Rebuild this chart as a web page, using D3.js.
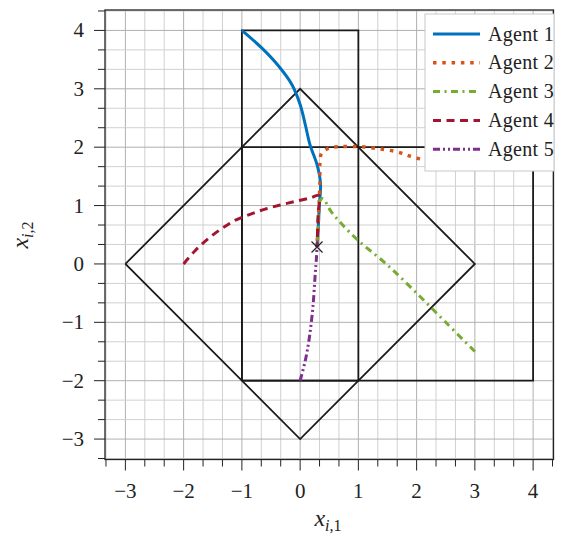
<!DOCTYPE html>
<html>
<head>
<meta charset="utf-8">
<script src="https://cdn.jsdelivr.net/npm/d3@7"></script>
<style>
  body { margin: 0; background: #fff; }
  text { font-family: "Liberation Serif", "Times New Roman", "DejaVu Serif", serif; }
</style>
</head>
<body>
<svg id="chart" width="566" height="537"></svg>
<script>
// axis setup
const xDomain = [-3.35, 4.35];
const yDomain = [-3.35, 4.35];
const majorTicks = [-3, -2, -1, 0, 1, 2, 3, 4];
const minorTicks = d3.range(-10, 14).map(k => k / 3);

// constraint sets (closed polygons)
const rectA = [[-1, -2], [1, -2], [1, 4], [-1, 4], [-1, -2]];
const rectB = [[-1, -2], [4, -2], [4, 2], [-1, 2], [-1, -2]];
const diamond = [[-3, 0], [0, 3], [3, 0], [0, -3], [-3, 0]];

// agent trajectories
const agent1 = [[-1, 4], [-0.66, 3.70], [-0.37, 3.39], [-0.14, 3.07], [0, 2.73], [0.09, 2.38], [0.17, 2.04], [0.29, 1.70], [0.35, 1.38], [0.33, 1.0], [0.31, 0.6], [0.29, 0.29]];
const agent2 = [[3, 1.62], [2.5, 1.72], [1.97, 1.82], [1.66, 1.92], [1.31, 1.98], [1.0, 2.01], [0.69, 2.01], [0.51, 1.99], [0.37, 1.90], [0.34, 1.73], [0.34, 1.4], [0.32, 0.9], [0.29, 0.29]];
const agent3 = [[3, -1.5], [2.5, -1.0], [2.0, -0.5], [1.5, -0.02], [1.0, 0.40], [0.7, 0.70], [0.53, 0.9], [0.39, 1.12], [0.34, 1.08], [0.31, 0.7], [0.29, 0.29]];
const agent4 = [[-2, 0], [-1.8, 0.23], [-1.57, 0.44], [-1.34, 0.61], [-1.11, 0.75], [-0.86, 0.85], [-0.6, 0.94], [-0.34, 1.01], [-0.09, 1.07], [0.17, 1.13], [0.32, 1.17], [0.31, 0.87], [0.29, 0.29]];
const agent5 = [[0, -2], [0.09, -1.65], [0.16, -1.25], [0.22, -0.73], [0.26, -0.16], [0.28, 0.1], [0.29, 0.29]];
const consensus = [0.29, 0.29];

const agentNames = ["Agent 1", "Agent 2", "Agent 3", "Agent 4", "Agent 5"];
const agentData = [agent1, agent2, agent3, agent4, agent5];
const agentColors = ["#0072BD", "#D95319", "#77AC30", "#A2142F", "#7E2F8E"];
const agentDash = ["none", "3.5 5.8", "7 4.5 2 4.5", "8 5.5", "7 3 2 3 2 3"];
const agentWidth = [3, 3.5, 3, 3, 3];

const serif = "'Liberation Serif', 'Times New Roman', 'DejaVu Serif', serif";
const svg = d3.select("#chart").attr("font-family", serif);
const pLeft = 105, pRight = 553.5, pTop = 10, pBottom = 459.5;

const x = d3.scaleLinear().domain(xDomain).range([pLeft, pRight]);
const y = d3.scaleLinear().domain(yDomain).range([pBottom, pTop]);
const isMajor = d => Math.abs(d - Math.round(d)) < 1e-6;

svg.append("defs").append("clipPath").attr("id", "plotclip")
    .append("rect")
    .attr("x", pLeft).attr("y", pTop)
    .attr("width", pRight - pLeft).attr("height", pBottom - pTop);

// grid
const grid = svg.append("g");
grid.selectAll(".vg").data(minorTicks).enter().append("line")
    .attr("x1", d => x(d)).attr("x2", d => x(d))
    .attr("y1", pTop).attr("y2", pBottom)
    .attr("stroke", d => isMajor(d) ? "#b0b0b0" : "#d0d0d0")
    .attr("stroke-width", 1);
grid.selectAll(".hg").data(minorTicks).enter().append("line")
    .attr("y1", d => y(d)).attr("y2", d => y(d))
    .attr("x1", pLeft).attr("x2", pRight)
    .attr("stroke", d => isMajor(d) ? "#b0b0b0" : "#d0d0d0")
    .attr("stroke-width", 1);

const plot = svg.append("g").attr("clip-path", "url(#plotclip)");
const polyLine = d3.line().x(d => x(d[0])).y(d => y(d[1]));

[rectA, rectB, diamond].forEach(shape => {
    plot.append("path")
        .attr("d", polyLine(shape))
        .attr("fill", "none")
        .attr("stroke", "#1a1a1a")
        .attr("stroke-width", 1.8)
        .attr("stroke-linejoin", "miter");
});

const smooth = d3.line()
    .x(d => x(d[0])).y(d => y(d[1]))
    .curve(d3.curveCatmullRom.alpha(0.5));

agentData.forEach((pts, i) => {
    plot.append("path")
        .attr("d", smooth(pts))
        .attr("fill", "none")
        .attr("stroke", agentColors[i])
        .attr("stroke-width", agentWidth[i])
        .attr("stroke-dasharray", agentDash[i]);
});

// consensus marker
const mx = x(consensus[0]), my = y(consensus[1]), ms = 5.5;
plot.append("path")
    .attr("d", `M${mx - ms},${my - ms}L${mx + ms},${my + ms}M${mx - ms},${my + ms}L${mx + ms},${my - ms}`)
    .attr("stroke", "#222")
    .attr("stroke-width", 1.2);

// frame
svg.append("rect")
    .attr("x", pLeft).attr("y", pTop)
    .attr("width", pRight - pLeft).attr("height", pBottom - pTop)
    .attr("fill", "none").attr("stroke", "#222").attr("stroke-width", 1.3);

// ticks
const tickG = svg.append("g").attr("stroke", "#222").attr("stroke-width", 1);
tickG.selectAll(".xt").data(minorTicks).enter().append("line")
    .attr("x1", d => x(d)).attr("x2", d => x(d))
    .attr("y1", pBottom).attr("y2", d => pBottom + (isMajor(d) ? 11 : 7));
tickG.selectAll(".yt").data(minorTicks).enter().append("line")
    .attr("y1", d => y(d)).attr("y2", d => y(d))
    .attr("x1", pLeft).attr("x2", d => pLeft - (isMajor(d) ? 11 : 7));

const fmt = d => d < 0 ? "\u2212" + Math.abs(d) : String(d);
svg.selectAll(".xl").data(majorTicks).enter().append("text")
    .attr("x", d => x(d)).attr("y", 498)
    .attr("text-anchor", "middle")
    .attr("font-family", serif)
    .attr("font-size", 21).attr("fill", "#222")
    .text(fmt);
svg.selectAll(".yl").data(majorTicks).enter().append("text")
    .attr("x", 84).attr("y", d => y(d) + 7)
    .attr("text-anchor", "end")
    .attr("font-family", serif)
    .attr("font-size", 21).attr("fill", "#222")
    .text(fmt);

// axis labels
function axisLabel(g, sub) {
    const t = g.append("text").attr("font-family", serif)
        .attr("font-size", 24).attr("fill", "#222").attr("text-anchor", "middle");
    t.append("tspan").attr("font-style", "italic").text("x");
    t.append("tspan").attr("font-size", 16).attr("dy", 5).attr("font-style", "italic").text("i");
    t.append("tspan").attr("font-size", 16).text("," + sub);
    return t;
}
axisLabel(svg.append("g").attr("transform", "translate(328,526)"), "1");
axisLabel(svg.append("g").attr("transform", "translate(28,235) rotate(-90)"), "2");

// legend
const lg = svg.append("g");
lg.append("rect")
    .attr("x", 425).attr("y", 14)
    .attr("width", 129).attr("height", 157)
    .attr("fill", "#fff").attr("stroke", "#c8c8c8").attr("stroke-width", 1);
agentNames.forEach((name, i) => {
    const ry = 34 + i * 28.8;
    lg.append("line")
        .attr("x1", 433).attr("x2", 480)
        .attr("y1", ry).attr("y2", ry)
        .attr("stroke", agentColors[i])
        .attr("stroke-width", agentWidth[i])
        .attr("stroke-dasharray", agentDash[i]);
    lg.append("text")
        .attr("x", 488).attr("y", ry + 6.5)
        .attr("font-family", serif)
        .attr("font-size", 20).attr("fill", "#222")
        .attr("letter-spacing", 0.3)
        .text(name);
});
</script>
</body>
</html>
